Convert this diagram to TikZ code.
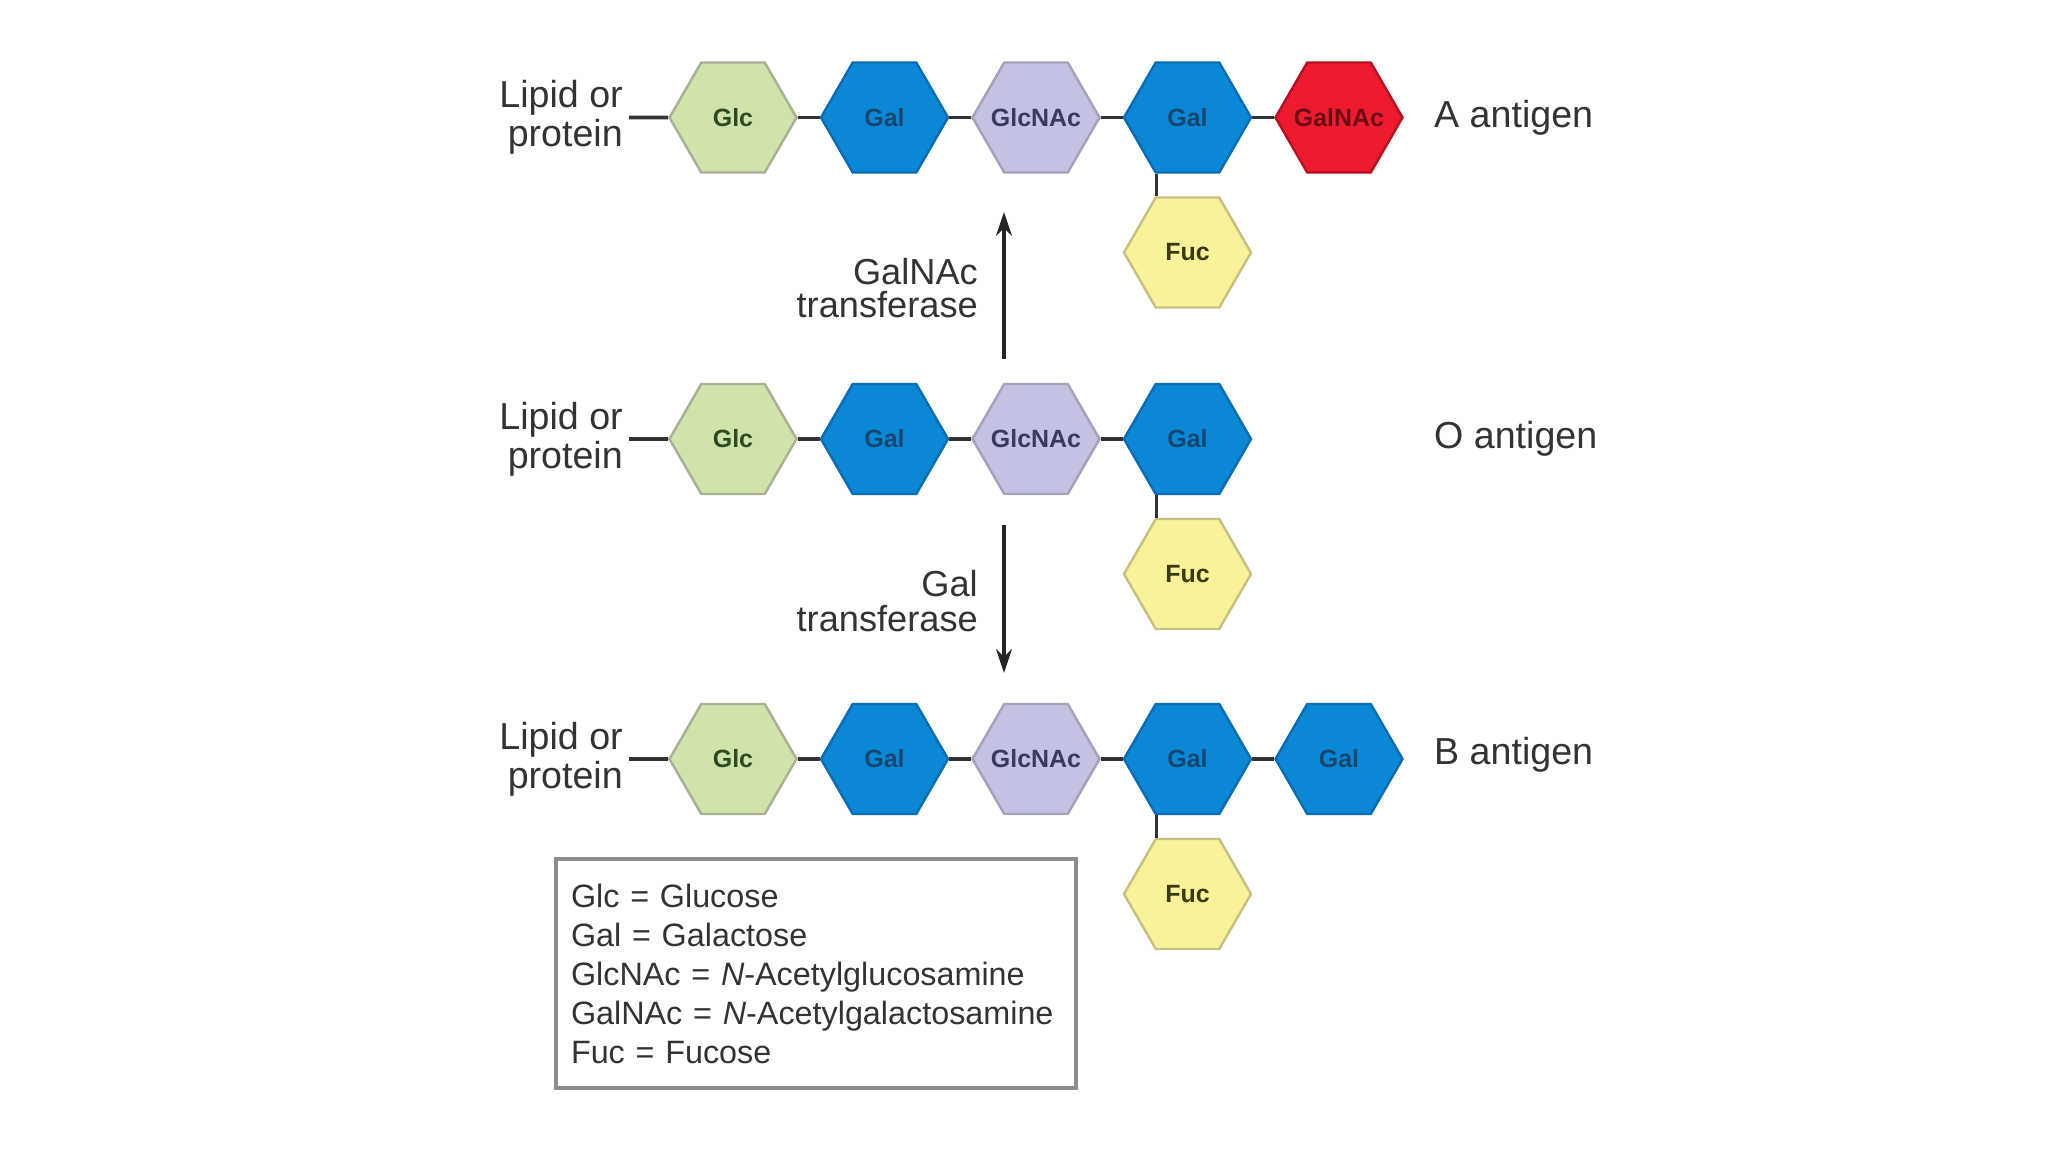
\documentclass[tikz,border=0pt]{standalone}
\usepackage{fontspec}
\setmainfont{Liberation Sans}
\usepackage{xcolor}
\usetikzlibrary{arrows.meta, shapes.geometric}

\definecolor{glcfill}{HTML}{CFE3AA}
\definecolor{glcline}{HTML}{A8B096}
\definecolor{glctext}{HTML}{2E4A22}
\definecolor{galfill}{HTML}{0A88D6}
\definecolor{galline}{HTML}{0A6CB4}
\definecolor{galtext}{HTML}{17476F}
\definecolor{nacfill}{HTML}{C4C2E2}
\definecolor{nacline}{HTML}{A4A2BA}
\definecolor{nactext}{HTML}{3A3A5A}
\definecolor{redfill}{HTML}{EE1B2E}
\definecolor{redline}{HTML}{B81020}
\definecolor{redtext}{HTML}{6A0A14}
\definecolor{fucfill}{HTML}{F8F39A}
\definecolor{fucline}{HTML}{C8C080}
\definecolor{fuctext}{HTML}{3A3A10}
\definecolor{bondgray}{HTML}{333333}

% 糖名不撑大六边形
\newcommand{\sname}[1]{\makebox[0pt]{#1}}

\begin{document}
\begin{tikzpicture}[line width=0.7pt,
    sugar/.style={regular polygon, regular polygon sides=6, minimum size=1.27cm,
        inner sep=0pt, font=\fontsize{7.1}{8}\selectfont\bfseries},
    glc/.style={sugar, fill=glcfill, draw=glcline, text=glctext},
    gal/.style={sugar, fill=galfill, draw=galline, text=galtext},
    nac/.style={sugar, fill=nacfill, draw=nacline, text=nactext},
    galnac/.style={sugar, fill=redfill, draw=redline, text=redtext},
    fuc/.style={sugar, fill=fucfill, draw=fucline, text=fuctext},
    bond/.style={draw=bondgray, line width=1pt},
    lbl/.style={font=\fontsize{10.7}{11}\selectfont, inner sep=0.5mm, text=black!80}]

    \useasboundingbox (0,0) rectangle (20.48,-11.52);

    % 三条糖链 (A, O, B)
    \foreach \r/\y in {a/-1.175, o/-4.39, b/-7.59} {
        \node[lbl, align=right, anchor=east] (lipid\r) at (6.29,\y) {Lipid or\\protein};
        \node[glc] (glc\r) at (7.33,\y) {\sname{Glc}};
        \node[gal] (galone\r) at (8.845,\y) {\sname{Gal}};
        \node[nac] (glcnac\r) at (10.36,\y) {\sname{GlcNAc}};
        \node[gal] (galtwo\r) at (11.875,\y) {\sname{Gal}};
        \node[fuc] (fuc\r) at (11.875,\y-1.35) {\sname{Fuc}};
        \draw[bond] (lipid\r.east) -- (glc\r.west);
        \draw[bond] (glc\r.east) -- (galone\r.west);
        \draw[bond] (galone\r.east) -- (glcnac\r.west);
        \draw[bond] (glcnac\r.east) -- (galtwo\r.west);
        \draw[bond] ([xshift=-3.1mm]galtwo\r.south) -- ([xshift=-3.1mm]fuc\r.north);
    }

    % 末端糖
    \node[galnac] (endA) at (13.39,-1.175) {\sname{GalNAc}};
    \node[gal] (endB) at (13.39,-7.59) {\sname{Gal}};
    \draw[bond] (galtwoa.east) -- (endA.west);
    \draw[bond] (galtwob.east) -- (endB.west);

    \node[lbl, anchor=west] (antA) at (14.28,-1.175) {A antigen};
    \node[lbl, anchor=west] (antO) at (14.28,-4.39) {O antigen};
    \node[lbl, anchor=west] (antB) at (14.28,-7.55) {B antigen};

    % 转移酶
    \coordinate (upfrom) at (10.04,-3.59);
    \coordinate (upto) at (10.04,-2.12);
    \coordinate (dnfrom) at (10.04,-5.25);
    \coordinate (dnto) at (10.04,-6.73);
    \draw[-{Stealth[length=2.4mm, width=1.6mm]}, black!85, line width=0.9pt] (upfrom) -- (upto);
    \draw[-{Stealth[length=2.4mm, width=1.6mm]}, black!85, line width=0.9pt] (dnfrom) -- (dnto);
    \node[lbl, align=right, anchor=east, font=\fontsize{10.3}{9.6}\selectfont] (tA) at (9.84,-2.88) {GalNAc\\transferase};
    \node[lbl, align=right, anchor=east, font=\fontsize{10.3}{10}\selectfont] (tB) at (9.84,-6.01) {Gal\\transferase};

    % 图例
    \node[draw=black!45, line width=1pt, text width=4.9cm, inner xsep=0.15cm,
        minimum height=2.29cm, align=left, text=black!80,
        font=\fontsize{9.2}{11.1}\selectfont] (legend) at (8.16,-9.735)
        {Glc = Glucose\\
         Gal = Galactose\\
         GlcNAc = \textit{N}-Acetylglucosamine\\
         GalNAc = \textit{N}-Acetylgalactosamine\\
         Fuc = Fucose};
\end{tikzpicture}
\end{document}
